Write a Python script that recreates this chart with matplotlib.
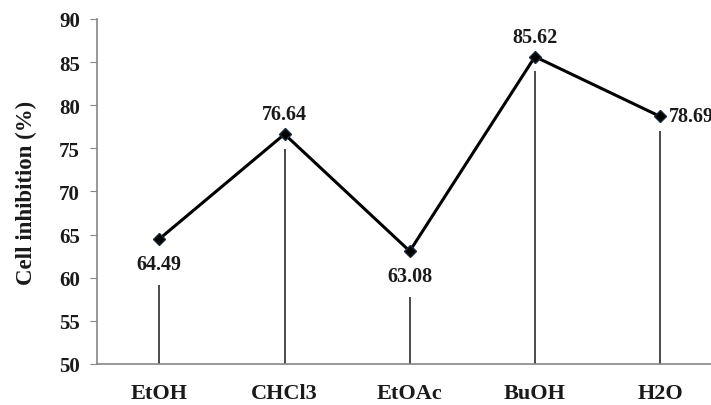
import numpy as np
import matplotlib.pyplot as plt

# Data
solvents = ['EtOH', 'CHCl3', 'EtOAc', 'BuOH', 'H2O']
inhibition = [64.49, 76.64, 63.08, 85.62, 78.69]
label_pos = ['below', 'above', 'below', 'above', 'right']

plt.rcParams['font.family'] = ['Liberation Serif', 'DejaVu Serif']
plt.rcParams['font.weight'] = 'bold'

fig = plt.figure(figsize=(7.11, 4.06), dpi=100)
ax = fig.add_axes([0.136, 0.101, 0.87, 0.85])

x = np.arange(len(solvents))

# drop lines: stop short of the marker, or below the label when it sits underneath
for xi, v, pos in zip(x, inhibition, label_pos):
    top = v - 5.3 if pos == 'below' else v - 1.7
    ax.vlines(xi, 50, top, color='#1a1a1a', lw=1.1, zorder=1)

ax.plot(x, inhibition, color='black', lw=2.2, marker='D', ms=6,
        mfc='black', mec='#1a2a3a', zorder=3)

for xi, v, pos in zip(x, inhibition, label_pos):
    txt = f'{v:.2f}'
    if pos == 'below':
        ax.annotate(txt, (xi, v), xytext=(0, -11), textcoords='offset points',
                    ha='center', va='top', fontsize=14.5, fontweight='bold', color='#1a1a1a')
    elif pos == 'above':
        ax.annotate(txt, (xi, v), xytext=(0, 7), textcoords='offset points',
                    ha='center', va='bottom', fontsize=14.5, fontweight='bold', color='#1a1a1a')
    else:
        ax.annotate(txt, (xi, v), xytext=(6, 0), textcoords='offset points',
                    ha='left', va='center', fontsize=14.5, fontweight='bold', color='#1a1a1a')

ax.set_ylim(50, 90)
ax.set_yticks(np.arange(50, 91, 5))
ax.set_xlim(-0.5, 4.44)
ax.set_xticks(x)
ax.set_xticklabels(solvents)
ax.set_ylabel('Cell inhibition (%)', fontsize=16.5, fontweight='bold', color='#1a1a1a', labelpad=16)

for s in ['top', 'right']:
    ax.spines[s].set_visible(False)
for s in ['left', 'bottom']:
    ax.spines[s].set_color('#868686')
    ax.spines[s].set_linewidth(1.2)

ax.tick_params(axis='y', length=5, color='#868686', labelsize=15, labelcolor='#1a1a1a', pad=7)
ax.tick_params(axis='x', length=0, labelsize=16, labelcolor='#1a1a1a', pad=14)

fig.savefig('out.png', dpi=100)
